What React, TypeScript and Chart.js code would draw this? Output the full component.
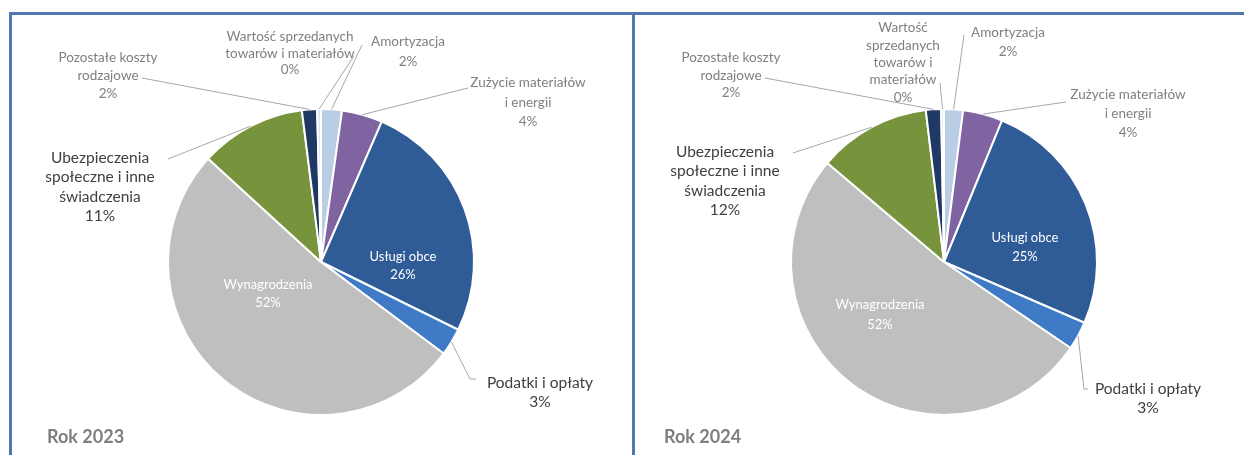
import React, { useEffect, useRef } from "react";
import { Chart, registerables } from "chart.js";

Chart.register(...registerables);

// ---- data ----
const categories = [
  "Amortyzacja",
  "Zużycie materiałów i energii",
  "Usługi obce",
  "Podatki i opłaty",
  "Wynagrodzenia",
  "Ubezpieczenia społeczne i inne świadczenia",
  "Pozostałe koszty rodzajowe",
  "Wartość sprzedanych towarów i materiałów",
];
const values2023 = [2.2, 4.3, 25.8, 2.9, 51.6, 11.2, 1.6, 0.4];
const values2024 = [2.0, 4.2, 25.3, 3.0, 51.7, 11.9, 1.6, 0.3];
const years = ["Rok 2023", "Rok 2024"];

const sliceColors = ["#b9cde5", "#8064a2", "#2f5b96", "#3e7ac6", "#bfbfbf", "#77933c", "#1f3864", "#dbe5f1"];

// label line breaks per chart
const lines2023 = [
  ["Amortyzacja"],
  ["Zużycie materiałów", "i energii"],
  ["Usługi obce"],
  ["Podatki i opłaty"],
  ["Wynagrodzenia"],
  ["Ubezpieczenia", "społeczne i inne", "świadczenia"],
  ["Pozostałe koszty", "rodzajowe"],
  ["Wartość sprzedanych", "towarów i materiałów"],
];
const lines2024 = [
  ["Amortyzacja"],
  ["Zużycie materiałów", "i energii"],
  ["Usługi obce"],
  ["Podatki i opłaty"],
  ["Wynagrodzenia"],
  ["Ubezpieczenia", "społeczne i inne", "świadczenia"],
  ["Pozostałe koszty", "rodzajowe"],
  ["Wartość", "sprzedanych", "towarów i", "materiałów"],
];

// ---- layout (canvas coordinates) ----
type LabelLayout = { x: number; y: number; lh: number; inside?: boolean; dark?: boolean; lead?: number[][] };
const layout2023: LabelLayout[] = [
  { x: 396, y: 27, lh: 20, lead: [[350, 30]] },
  { x: 516, y: 68, lh: 19.5, lead: [[456, 73]] },
  { x: 391, y: 242, lh: 18, inside: true },
  { x: 528, y: 368, lh: 19, dark: true, lead: [[464, 364], [458, 364]] },
  { x: 256, y: 270, lh: 18, inside: true },
  { x: 88, y: 143, lh: 19.3, dark: true, lead: [[156, 144]] },
  { x: 96, y: 43, lh: 18, lead: [[130, 63]] },
  { x: 278, y: 22, lh: 16.5, lead: [[342, 41]] },
];
const layout2024: LabelLayout[] = [
  { x: 373, y: 18, lh: 19, lead: [[329, 20]] },
  { x: 493, y: 80, lh: 19, lead: [[431, 87]] },
  { x: 390, y: 223, lh: 19, inside: true },
  { x: 513, y: 374, lh: 19, dark: true, lead: [[453, 374], [449, 374]] },
  { x: 245, y: 290, lh: 20, inside: true },
  { x: 90, y: 137, lh: 19.3, dark: true, lead: [[158, 138]] },
  { x: 96, y: 43, lh: 17.5, lead: [[130, 63]] },
  { x: 268, y: 13, lh: 17.3, lead: [[305, 68]] },
];

const FONT = "Lato, 'Open Sans', sans-serif";

function makeLabelPlugin(lines: string[][], lay: LabelLayout[], title: string) {
  return {
    id: "pieLabels",
    afterDraw(chart: any) {
      const ctx = chart.ctx as CanvasRenderingContext2D;
      const meta = chart.getDatasetMeta(0);
      const data = chart.data.datasets[0].data as number[];
      const total = data.reduce((a, b) => a + b, 0);
      ctx.save();
      meta.data.forEach((arc: any, i: number) => {
        const L = lay[i];
        const p = arc.getProps(["x", "y", "startAngle", "endAngle", "outerRadius"], true);
        const mid = (p.startAngle + p.endAngle) / 2;
        const ex = p.x + Math.cos(mid) * p.outerRadius;
        const ey = p.y + Math.sin(mid) * p.outerRadius;
        if (L.lead) {
          ctx.strokeStyle = "#a6a6a6";
          ctx.lineWidth = 1;
          ctx.beginPath();
          ctx.moveTo(L.lead[0][0], L.lead[0][1]);
          for (let k = 1; k < L.lead.length; k++) ctx.lineTo(L.lead[k][0], L.lead[k][1]);
          ctx.lineTo(ex, ey);
          ctx.stroke();
        }
        const txt = [...lines[i], Math.round((data[i] / total) * 100) + "%"];
        ctx.textAlign = "center";
        ctx.textBaseline = "middle";
        ctx.fillStyle = L.inside ? "#ffffff" : L.dark ? "#404040" : "#808080";
        ctx.font = (L.dark ? "15.5px " : L.inside ? "13px " : "13.5px ") + FONT;
        txt.forEach((t, k) => ctx.fillText(t, L.x, L.y + k * L.lh));
      });
      ctx.fillStyle = "#7f7f7f";
      ctx.font = "bold 18px " + FONT;
      ctx.textAlign = "left";
      ctx.textBaseline = "middle";
      ctx.fillText(title, title === years[0] ? 35 : 29, 422);
      ctx.restore();
    },
  };
}

function PieChart(props: { values: number[]; lines: string[][]; lay: LabelLayout[]; title: string; width: number; left: number }) {
  const ref = useRef<HTMLCanvasElement>(null);
  useEffect(() => {
    const canvas = ref.current!;
    const padRight = props.width - 518;
    const chart = new Chart(canvas, {
      type: "pie",
      data: {
        labels: categories,
        datasets: [
          {
            data: props.values,
            backgroundColor: sliceColors,
            borderColor: "#ffffff",
            borderWidth: 2,
          },
        ],
      },
      options: {
        animation: false,
        responsive: false,
        devicePixelRatio: 1,
        radius: 153,
        layout: { padding: { left: 100, right: padRight, top: 80, bottom: 26 } },
        plugins: { legend: { display: false }, tooltip: { enabled: false } },
      } as any,
      plugins: [makeLabelPlugin(props.lines, props.lay, props.title)],
    });
    return () => chart.destroy();
  }, []);
  return (
    <canvas
      ref={ref}
      width={props.width}
      height={440}
      style={{ position: "absolute", left: props.left, top: 15, width: props.width, height: 440 }}
    />
  );
}

export default function App() {
  return (
    <div style={{ position: "fixed", left: 0, top: 0, width: 1244, height: 455, background: "#ffffff", overflow: "hidden" }}>
      <div style={{ position: "absolute", left: 9, top: 12, width: 1235, height: 3, background: "#4f78b0" }} />
      <div style={{ position: "absolute", left: 9, top: 12, width: 3, height: 443, background: "#4f78b0" }} />
      <div style={{ position: "absolute", left: 632, top: 12, width: 3, height: 443, background: "#4f78b0" }} />
      <PieChart values={values2023} lines={lines2023} lay={layout2023} title={years[0]} width={620} left={12} />
      <PieChart values={values2024} lines={lines2024} lay={layout2024} title={years[1]} width={609} left={635} />
    </div>
  );
}
